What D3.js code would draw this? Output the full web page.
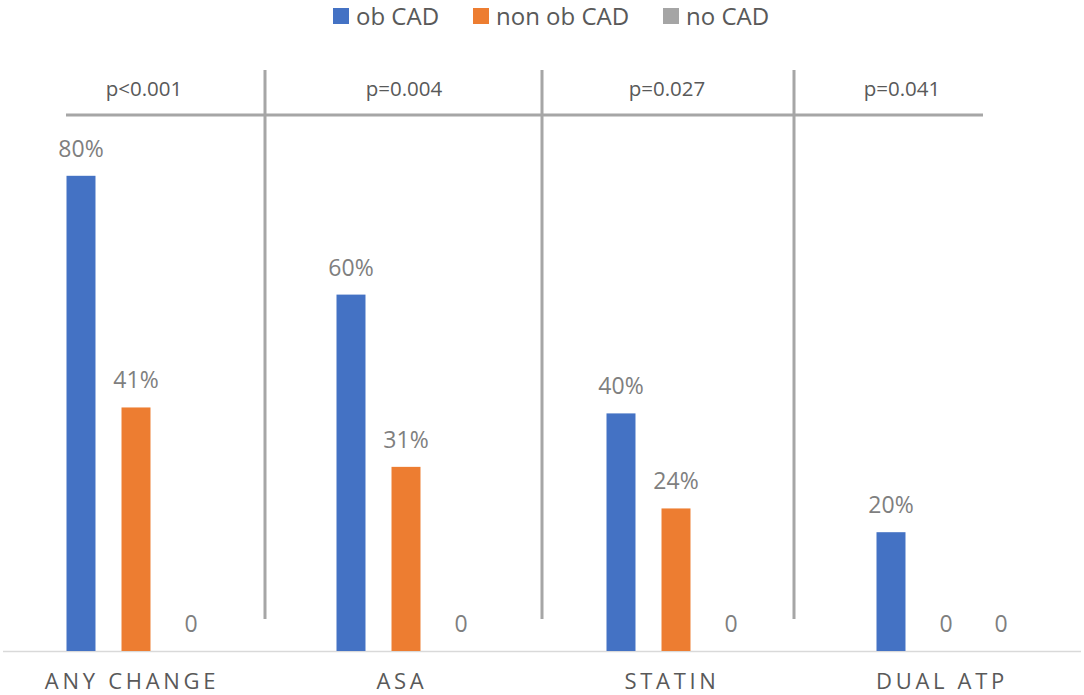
<!DOCTYPE html>
<html><head><meta charset="utf-8">
<script src="https://cdn.jsdelivr.net/npm/d3@7"></script>
<style>
html,body{margin:0;padding:0;background:#fff;}
svg{display:block;font-family:"Open Sans","Noto Sans",sans-serif;}
</style></head>
<body><svg id="c" width="1084" height="695"></svg>
<script>
const categories = ["ANY CHANGE","ASA","STATIN","DUAL ATP"];
const seriesNames = ["ob CAD","non ob CAD","no CAD"];
const obCAD = [80,60,40,20];
const nonObCAD = [41,31,24,0];
const noCAD = [0,0,0,0];
const obLabels = ["80%","60%","40%","20%"];
const nonObLabels = ["41%","31%","24%","0"];
const noLabels = ["0","0","0","0"];
const pValues = ["p<0.001","p=0.004","p=0.027","p=0.041"];

const colors = ["#4472C4","#ED7D31","#A5A5A5"];
const svg = d3.select("#c");
const baseY = 651;
const x = d3.scaleBand().domain(categories).range([1,1081]).paddingInner(0).paddingOuter(0);
const inner = d3.scaleBand().domain(seriesNames).range([-69.5,69.5]).paddingInner(0.473).paddingOuter(0);
const y = d3.scaleLinear().domain([0,100]).range([baseY, baseY-594]);

const series = [obCAD, nonObCAD, noCAD];
const labels = [obLabels, nonObLabels, noLabels];

// annotation lines (p-value brackets)
const gridColor = "#A6A6A6";
svg.append("line").attr("x1",66).attr("x2",983).attr("y1",115).attr("y2",115)
  .attr("stroke",gridColor).attr("stroke-width",3);
const sepX = [265,542,794];
svg.selectAll("line.sep").data(sepX).enter().append("line").attr("class","sep")
  .attr("x1",d=>d).attr("x2",d=>d).attr("y1",70).attr("y2",619)
  .attr("stroke",gridColor).attr("stroke-width",3);
const pX = [144,404,667,902];
svg.selectAll("text.p").data(pValues).enter().append("text").attr("class","p")
  .attr("x",(d,i)=>pX[i]).attr("y",96).attr("text-anchor","middle")
  .attr("font-size",20.5).attr("fill","#595959").text(d=>d);

// baseline
svg.append("line").attr("x1",3).attr("x2",1081).attr("y1",baseY+0.5).attr("y2",baseY+0.5)
  .attr("stroke","#D9D9D9").attr("stroke-width",1.5);

// bars
series.forEach((vals,si)=>{
  const g = svg.append("g");
  g.selectAll("rect").data(vals).enter().append("rect")
    .attr("x",(d,i)=>x(categories[i])+x.bandwidth()/2+inner(seriesNames[si]))
    .attr("width",inner.bandwidth())
    .attr("y",d=>y(d)).attr("height",d=>baseY-y(d))
    .attr("fill",colors[si]);
  g.selectAll("text").data(vals).enter().append("text")
    .attr("x",(d,i)=>x(categories[i])+x.bandwidth()/2+inner(seriesNames[si])+inner.bandwidth()/2)
    .attr("y",d=>y(d)-19)
    .attr("text-anchor","middle").attr("font-size",23).attr("fill","#7F7F7F")
    .text((d,i)=>labels[si][i]);
});

// category axis labels
svg.selectAll("text.cat").data(categories).enter().append("text").attr("class","cat")
  .attr("x",d=>x(d)+x.bandwidth()/2-4).attr("y",689)
  .attr("text-anchor","middle").attr("font-size",22).attr("letter-spacing",3.7)
  .attr("fill","#595959").text(d=>d);

// legend
const legX = [333,473,663];
const leg = svg.append("g");
seriesNames.forEach((n,i)=>{
  leg.append("rect").attr("x",legX[i]).attr("y",8).attr("width",16).attr("height",16).attr("fill",colors[i]);
  leg.append("text").attr("x",legX[i]+23).attr("y",25).attr("font-size",24).attr("fill","#595959").text(n);
});
</script></body></html>
